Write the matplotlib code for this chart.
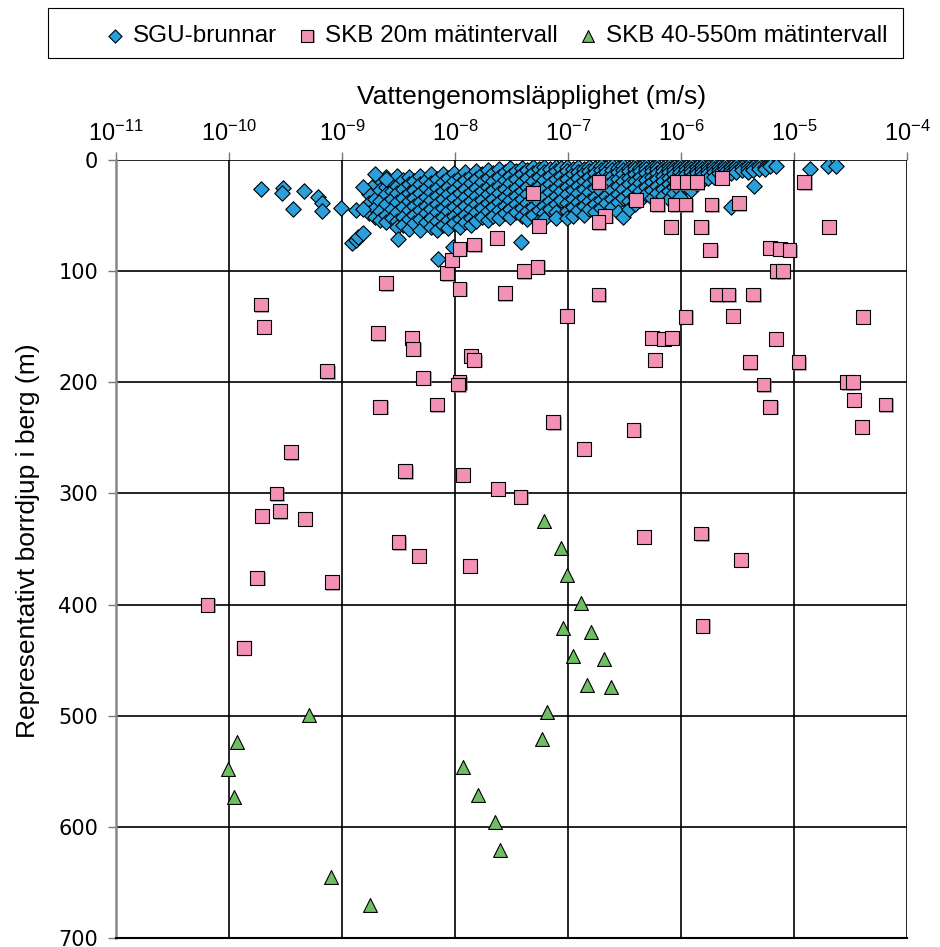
import matplotlib
matplotlib.use('Agg')
import matplotlib.pyplot as plt
import matplotlib.patheffects as pe
from matplotlib.patches import Rectangle
from matplotlib.ticker import NullLocator, FixedLocator
import numpy as np

plt.rcParams['font.family'] = ['Liberation Sans', 'DejaVu Sans']
plt.rcParams['mathtext.fontset'] = 'custom'
plt.rcParams['mathtext.rm'] = 'Liberation Sans'

# ---- data: log10(K) in m/s, depth in m ----
# SGU wells, dense cluster read column by column (log10 K -> depths)
sgu_logk_cols = [-8.76, -8.71, -8.66, -8.61, -8.56, -8.51, -8.46, -8.41, -8.36, -8.31,
                 -8.26, -8.21, -8.16, -8.11, -8.06, -8.01, -7.96, -7.91, -7.86, -7.81,
                 -7.76, -7.71, -7.66, -7.61, -7.56, -7.51, -7.46, -7.41, -7.36, -7.31,
                 -7.26, -7.21, -7.16, -7.11, -7.06, -7.01, -6.96, -6.91, -6.86, -6.81,
                 -6.76, -6.71, -6.66, -6.61, -6.56, -6.51, -6.46, -6.41, -6.36, -6.31,
                 -6.26, -6.21, -6.16, -6.11, -6.06, -6.01, -5.96, -5.91, -5.86, -5.81,
                 -5.76, -5.71, -5.66, -5.61, -5.56, -5.51, -5.46, -5.41, -5.36, -5.31,
                 -5.26, -5.21, -5.16]
sgu_depth_cols = [
    [31, 39, 48], [22, 35, 43, 51], [18, 27, 37, 46, 54], [15, 24, 31, 40, 49, 56],
    [20, 28, 35, 44, 52], [14, 23, 30, 38, 47, 55, 60], [18, 26, 34, 42, 51, 58],
    [15, 22, 30, 37, 45, 53, 62], [19, 27, 34, 41, 49, 57], [14, 22, 30, 38, 45, 53, 63],
    [18, 25, 33, 41, 48, 56], [13, 21, 29, 36, 44, 52, 60], [17, 25, 32, 40, 47, 55, 63],
    [13, 20, 28, 35, 43, 51, 58], [16, 24, 31, 39, 46, 54, 61], [12, 19, 27, 34, 42, 50, 57],
    [15, 22, 30, 38, 45, 53, 60], [11, 18, 26, 33, 41, 49, 56], [14, 21, 29, 37, 44, 52, 58],
    [10, 17, 25, 32, 40, 47, 55], [13, 20, 28, 36, 43, 51], [9, 16, 24, 31, 39, 46, 54],
    [12, 19, 27, 35, 42, 50], [8, 15, 23, 30, 38, 45, 52], [11, 18, 26, 33, 41, 48],
    [7, 14, 21, 29, 36, 44, 51], [10, 17, 25, 32, 40, 47], [7, 13, 20, 28, 35, 43, 50],
    [9, 16, 24, 31, 39, 46, 53], [6, 12, 19, 27, 34, 42, 49], [8, 15, 23, 30, 38, 45, 55],
    [6, 11, 18, 26, 33, 41, 48, 53], [8, 14, 22, 29, 37, 44], [6, 10, 17, 25, 32, 40, 47, 52],
    [7, 14, 21, 28, 36], [6, 10, 17, 24, 31, 39, 46, 52], [8, 13, 20, 27, 35, 42, 50],
    [6, 11, 16, 23, 30, 38, 45], [8, 12, 19, 26, 34, 41, 49], [6, 10, 15, 22, 29, 37, 44],
    [7, 12, 18, 25, 33, 40, 47], [5, 9, 14, 21, 28, 36, 43], [7, 11, 17, 24, 32, 39],
    [5, 9, 14, 20, 27, 35, 42], [7, 11, 17, 23, 31, 38, 47], [5, 9, 13, 19, 26, 34, 51],
    [7, 10, 16, 22, 30, 37, 44], [5, 8, 13, 19, 25, 33, 40], [7, 10, 15, 21, 28, 36],
    [5, 8, 12, 18, 24, 31], [7, 10, 15, 20, 27, 34], [5, 8, 12, 17, 23, 30],
    [7, 10, 14, 19, 26, 32], [5, 8, 11, 16, 22, 28, 35], [6, 9, 13, 18, 24, 30],
    [5, 8, 11, 15, 21, 27, 33], [6, 9, 13, 18, 24], [5, 8, 11, 15, 20, 27],
    [6, 9, 12, 17, 22], [5, 8, 11, 14, 19], [6, 9, 12, 16], [5, 8, 11, 15],
    [6, 9, 12], [5, 8, 11, 14], [6, 9, 12], [5, 8, 11], [6, 9], [5, 8, 11],
    [6, 9], [5, 8], [6, 8], [5], [5],
]
# scattered SGU wells outside the cluster
sgu_extra_logk = [-9.72, -9.52, -9.53, -9.34, -9.43, -9.21, -9.18, -9.18, -9.01, -8.88,
                  -8.81, -8.81, -8.71, -8.61, -8.91, -8.88, -8.86, -8.81, -8.50, -8.15,
                  -8.02, -7.42, -5.35, -4.86, -4.70, -4.63, -5.56]
sgu_extra_depth = [26, 25, 30, 28, 44, 33, 39, 46, 43, 45,
                   24, 44, 13, 17, 75, 72, 69, 66, 71, 89,
                   78, 74, 23, 8, 5, 5, 42]

# SKB, 20 m test intervals
skb20_logk = [-10.19, -9.87, -9.72, -9.69, -9.75, -9.71, -9.58, -9.55, -9.45, -9.33,
              -9.13, -9.09, -8.68, -8.66, -8.61, -8.44, -8.38, -8.37, -8.50, -8.32,
              -8.28, -8.16, -8.07, -8.03, -7.96, -7.96, -7.96, -7.97, -7.93, -7.86,
              -7.83, -7.83, -7.87, -7.63, -7.62, -7.56, -7.42, -7.39, -7.31, -7.27,
              -7.26, -7.01, -6.73, -6.40, -6.67, -6.73, -6.04, -5.95, -5.86, -5.64,
              -6.21, -6.05, -5.96, -5.73, -5.49, -6.09, -5.82, -5.74, -5.21, -5.12,
              -5.04, -5.15, -5.10, -4.91, -4.69, -6.73, -5.68, -5.58, -5.36, -5.96,
              -5.54, -4.39, -6.26, -6.15, -6.08, -6.23, -5.16, -5.39, -4.96, -5.27,
              -4.53, -4.48, -4.47, -4.19, -5.21, -4.40, -7.13, -6.42, -6.86, -6.33,
              -5.82, -5.47, -5.81, -9.87]
skb20_depth = [400, 439, 130, 150, 376, 320, 300, 316, 263, 323,
               190, 380, 156, 222, 111, 280, 160, 170, 344, 356,
               196, 220, 102, 90, 80, 116, 200, 202, 283, 176,
               180, 76, 365, 70, 296, 120, 303, 100, 30, 96,
               59, 140, 20, 36, 50, 56, 20, 20, 20, 16,
               40, 40, 40, 40, 39, 60, 60, 81, 79, 80,
               81, 100, 100, 20, 60, 121, 121, 121, 121, 141,
               140, 141, 160, 161, 160, 180, 161, 182, 182, 202,
               200, 200, 216, 220, 222, 240, 236, 243, 260, 339,
               336, 360, 419, 439]

# SKB, 40-550 m test intervals
skb40_logk = [-7.21, -7.06, -7.01, -6.885, -7.04, -6.80, -6.96, -6.68, -6.83, -6.62,
              -7.19, -7.23, -9.29, -9.93, -10.01, -9.96, -7.93, -7.80, -7.65, -7.60,
              -9.10, -8.75]
skb40_depth = [325, 349, 373, 399, 421, 425, 446, 449, 472, 474,
               497, 521, 499, 524, 548, 573, 546, 571, 596, 621,
               645, 670]

xtick_vals = [1e-11, 1e-10, 1e-9, 1e-8, 1e-7, 1e-6, 1e-5, 1e-4]
ytick_vals = [0, 100, 200, 300, 400, 500, 600, 700]

sgu_x = [10 ** k for k, ds in zip(sgu_logk_cols, sgu_depth_cols) for d in ds]
sgu_y = [d for k, ds in zip(sgu_logk_cols, sgu_depth_cols) for d in ds]
sgu_x += [10 ** k for k in sgu_extra_logk]
sgu_y += sgu_extra_depth

fig = plt.figure(figsize=(9.4, 9.47), dpi=100)
ax = fig.add_axes([0.1234, 0.0095, 0.8415, 0.8215])

shadow = [pe.SimplePatchShadow(offset=(1, -1), shadow_rgbFace='#777777', alpha=0.6), pe.Normal()]

s1 = ax.scatter(sgu_x, sgu_y, marker='D', s=62, c='#2A9FDA', edgecolors='black',
                linewidths=0.8, zorder=3, label='SGU-brunnar')
s2 = ax.scatter([10 ** k for k in skb20_logk], skb20_depth, marker='s', s=100, c='#F291B5',
                edgecolors='black', linewidths=0.8, zorder=4, label='SKB 20m mätintervall')
s2.set_path_effects(shadow)
s3 = ax.scatter([10 ** k for k in skb40_logk], skb40_depth, marker='^', s=100, c='#6DBF62',
                edgecolors='black', linewidths=0.8, zorder=5, label='SKB 40-550m mätintervall')

ax.set_xscale('log')
ax.set_xlim(1e-11, 1e-4)
ax.set_ylim(700, 0)
ax.xaxis.set_major_locator(FixedLocator(xtick_vals))
ax.xaxis.set_minor_locator(NullLocator())
ax.set_yticks(ytick_vals)
ax.xaxis.tick_top()

ax.grid(True, color='black', linewidth=1.2, zorder=1)
ax.set_axisbelow(True)
for side in ['top', 'right']:
    ax.spines[side].set_visible(False)
ax.spines['left'].set_color('#888888')
ax.spines['left'].set_linewidth(1.8)
ax.spines['bottom'].set_color('black')
ax.spines['bottom'].set_linewidth(1.5)

ax.tick_params(axis='x', which='major', direction='out', length=6, width=1,
               color='#777777', labelsize=17, pad=4)
ax.tick_params(axis='y', which='major', direction='out', length=6, width=1,
               color='#777777', labelsize=15, pad=7)
for lab in ax.get_yticklabels():
    lab.set_fontfamily('DejaVu Sans')

fig.text(0.566, 0.8976, 'Vattengenomsläpplighet (m/s)', ha='center', va='center', fontsize=19)
fig.text(0.030, 0.4287, 'Representativt borrdjup i berg (m)', ha='center', va='center',
         rotation=90, fontsize=19)

# legend without its own frame, box drawn separately (wide left margin as in original)
leg = fig.legend(handles=[s1, s2, s3], loc='center', bbox_to_anchor=(0.528, 0.962),
                 ncol=3, fontsize=17.5, frameon=False,
                 markerscale=0.85, handlelength=0.8, handletextpad=0.33, columnspacing=0.85,
                 borderpad=0.3)
fig.patches.append(Rectangle((48 / 940, 1 - 58 / 947), 855 / 940, 50 / 947,
                             transform=fig.transFigure, fill=False,
                             edgecolor='black', linewidth=0.8))

fig.savefig('out.png', dpi=100)
